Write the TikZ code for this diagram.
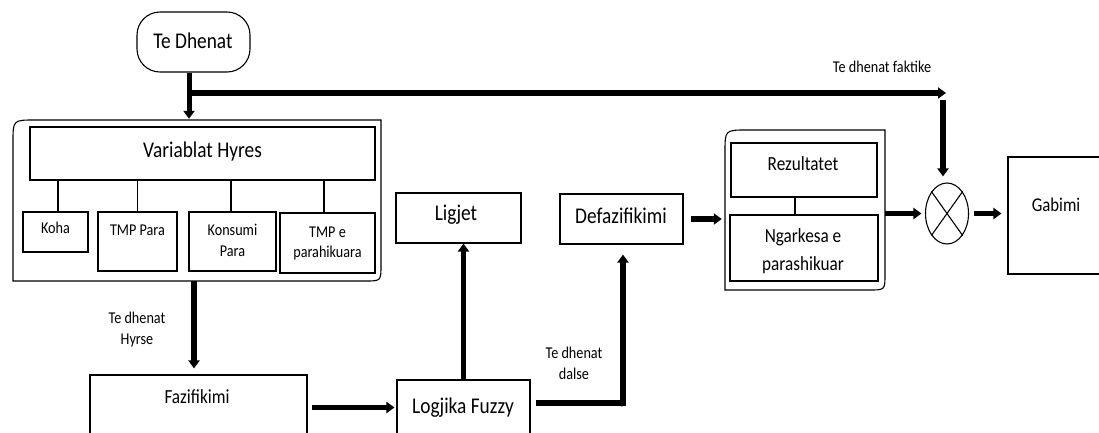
\documentclass[tikz,border=0pt]{standalone}
\usepackage{fontspec}
\setmainfont{Carlito}[FakeStretch=0.86]
\usetikzlibrary{arrows.meta, shapes.geometric}
\begin{document}
\begin{tikzpicture}[x=1pt,y=-1pt,
  box/.style={draw, line width=1.1pt, inner sep=0pt},
  big/.style={font=\fontsize{22.5}{26}\selectfont},
  mid/.style={font=\fontsize{20}{24}\selectfont},
  sml/.style={font=\fontsize{16.5}{21}\selectfont},
  txt/.style={inner sep=0pt, anchor=base, align=center},
  arr/.style={line width=5.3pt, -{Triangle[width=11pt,length=8pt]}},
  thin/.style={line width=1.1pt}
]
\path[use as bounding box, fill=white] (0,0) rectangle (1099,432);

% ---- Te Dhenat
\node[box, rounded corners=23pt, minimum width=113pt, minimum height=60pt] (tedh) at (193.5,42) {};
\node[txt,big] (ttedh) at (193,48) {Te Dhenat};

% ---- left container
\node[minimum width=368pt, minimum height=161pt, inner sep=0pt] (lc) at (197,200.5) {};
\draw[thin] (13,281) -- (13,142) .. controls (13,120) .. (35,120) -- (381,120) -- (381,265) .. controls (381,281) .. (365,281) -- cycle;
\node[box, minimum width=345pt, minimum height=53pt] (vh) at (202.5,153.5) {};
\node[txt,big] (tvh) at (202.5,157) {Variablat Hyres};
\node[box, minimum width=65pt, minimum height=40pt] (koha) at (55.5,232) {};
\node[txt,sml] (tkoha) at (55.5,233) {Koha};
\node[box, minimum width=79pt, minimum height=59pt] (tmpp) at (137.5,241.5) {};
\node[txt,sml] (ttmpp) at (137.5,235) {TMP Para};
\node[box, minimum width=87pt, minimum height=59pt] (kons) at (232.5,241.5) {};
\node[txt,sml] (tkons) at (232.5,256) {Konsumi\\Para};
\node[box, minimum width=95pt, minimum height=60pt] (tmpe) at (327.5,243) {};
\node[txt,sml,font=\fontsize{16.5}{20}\selectfont] (ttmpe) at (327.5,257) {TMP e\\parahikuara};
\draw[thin] ([xshift=2.5pt]koha.north) -- ([xshift=2.5pt]koha.north |- vh.south);
\draw[thin] (tmpp.north) -- (tmpp.north |- vh.south);
\draw[thin] ([xshift=-1.5pt]kons.north) -- ([xshift=-1.5pt]kons.north |- vh.south);
\draw[thin] ([xshift=-3.5pt]tmpe.north) -- ([xshift=-3.5pt]tmpe.north |- vh.south);

% ---- lower chain
\node[box, minimum width=217pt, minimum height=65pt] (fazi) at (198.5,407.5) {};
\node[txt,mid] (tfazi) at (197,403) {Fazifikimi};
\node[box, minimum width=133pt, minimum height=60pt] (logj) at (463.5,410) {};
\node[txt,big] (tlogj) at (463,413) {Logjika Fuzzy};
\node[box, minimum width=125pt, minimum height=50pt] (ligj) at (458.5,218) {};
\node[txt,big] (tligj) at (456,220) {Ligjet};
\node[box, minimum width=123pt, minimum height=50pt] (defaz) at (621.5,219) {};
\node[txt,big] (tdefaz) at (621,223) {Defazifikimi};

% ---- right container
\node[minimum width=160pt, minimum height=160pt, inner sep=0pt] (rc) at (805,210) {};
\draw[thin] (725,290) -- (725,152) .. controls (725,130) .. (747,130) -- (885,130) -- (885,274) .. controls (885,290) .. (869,290) -- cycle;
\node[box, minimum width=146pt, minimum height=54pt] (rez) at (804,170) {};
\node[txt,mid] (trez) at (803,170) {Rezultatet};
\node[box, minimum width=148pt, minimum height=66pt] (ngk) at (804,248) {};
\node[txt,font=\fontsize{20}{28}\selectfont] (tngk) at (803,270) {Ngarkesa e\\parashikuar};
\draw[thin] ([xshift=-9pt]rez.south) -- ([xshift=-9pt]rez.south |- ngk.north);

% ---- comparator and error
\node[draw, line width=1.1pt, ellipse, minimum width=43pt, minimum height=61pt, inner sep=0pt] (mul) at (947,213.5) {};
\draw[thin] (mul.north west) -- (mul.south east);
\draw[thin] (mul.north east) -- (mul.south west);
\node[box, minimum width=97pt, minimum height=117pt] (gab) at (1056.5,215.5) {};
\node[txt,font=\fontsize{19.5}{23}\selectfont] (tgab) at (1056,211) {Gabimi};

% ---- labels
\node[txt,sml] (lfak) at (882,72) {Te dhenat faktike};
\node[txt,sml] (lhyr) at (137,344) {Te dhenat\\Hyrse};
\node[txt,sml] (ldal) at (574,379) {Te dhenat\\dalse};

% ---- connectors
\coordinate (jn) at (189,93);
\coordinate (fk) at (946,93);
\coordinate (fkd) at (943,100);
\coordinate (xh) at (194,300);
\coordinate (el) at (623,403);
\draw[arr, line width=5pt, shorten >=1pt] (tedh.south -| jn) -- (lc.north -| jn);
\draw[arr, line width=5.8pt] (jn) -- (fk);
\draw[arr, shorten >=6pt] (fkd) -- (fkd |- mul.north);
\draw[arr, shorten >=3.5pt] (rc.east |- mul.center) -- (mul.west);
\draw[arr, shorten <=5pt, shorten >=6pt] (mul.east) -- (gab.west |- mul.east);
\draw[arr, shorten <=7pt, shorten >=3pt] (defaz.east) -- (rc.west |- defaz.east);
\draw[arr] (logj.north) -- (ligj.south -| logj.north);
\draw[line width=5.3pt, -{Triangle[width=8pt,length=4pt]}, shorten <=5pt] (logj.east |- el) -- ([xshift=2.5pt]el);
\draw[arr, shorten >=10pt] ([yshift=-2.5pt]el) -- (defaz.south -| el);
\draw[arr, shorten <=4pt, shorten >=2pt] (fazi.east) -- (logj.west |- fazi.east);
\draw[arr, shorten >=6pt] (lc.south -| xh) -- (fazi.north -| xh);
\end{tikzpicture}
\end{document}
